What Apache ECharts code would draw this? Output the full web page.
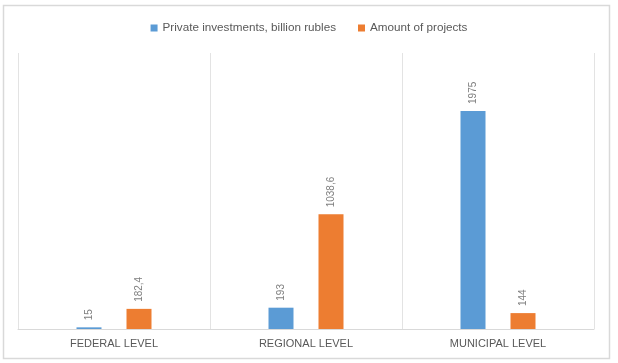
<!DOCTYPE html>
<html>
<head>
<meta charset="utf-8">
<script src="https://cdn.jsdelivr.net/npm/echarts@6/dist/echarts.min.js"></script>
<style>
html,body{margin:0;padding:0;background:#fff;}
#chart{width:618px;height:363px;}
</style>
</head>
<body>
<div id="chart"></div>
<script>
var categories = ['FEDERAL LEVEL', 'REGIONAL LEVEL', 'MUNICIPAL LEVEL'];
var seriesNames = ['Private investments, billion rubles', 'Amount of projects'];
var investments = [15, 193, 1975];
var projects = [182.4, 1038.6, 144];

var chart = echarts.init(document.getElementById('chart'));
function fmt(p){ return String(p.value).replace('.', ','); }
var labelStyle = {
  show: true,
  position: 'top',
  rotate: 90,
  align: 'left',
  verticalAlign: 'middle',
  distance: 7,
  color: '#7f7f7f',
  fontSize: 10,
  fontFamily: 'Liberation Sans',
  formatter: fmt
};
chart.setOption({
  animation: false,
  backgroundColor: '#fff',
  graphic: [{
    type: 'rect',
    shape: {x: 3.5, y: 5.5, width: 606, height: 353},
    style: {fill: 'none', stroke: '#d9d9d9', lineWidth: 1.5},
    silent: true
  }],
  legend: {
    top: 17,
    left: 'center',
    itemWidth: 7,
    itemHeight: 7,
    itemGap: 22,
    icon: 'rect',
    textStyle: {color: '#595959', fontSize: 11.7, fontFamily: 'Liberation Sans'},
    data: seriesNames
  },
  grid: {left: 18, right: 24, top: 53, bottom: 34},
  xAxis: {
    type: 'category',
    data: categories,
    axisLine: {lineStyle: {color: '#d9d9d9'}},
    axisTick: {show: false},
    axisLabel: {color: '#595959', fontSize: 11, fontFamily: 'Liberation Sans', margin: 9},
    splitLine: {show: true, lineStyle: {color: '#e3e3e3'}}
  },
  yAxis: {
    type: 'value',
    min: 0,
    max: 2500,
    show: false,
    splitLine: {show: false}
  },
  series: [{
    name: seriesNames[0],
    type: 'bar',
    data: investments,
    itemStyle: {color: '#5B9BD5'},
    barWidth: 25,
    barGap: '100%',
    label: labelStyle
  }, {
    name: seriesNames[1],
    type: 'bar',
    data: projects,
    itemStyle: {color: '#ED7D31'},
    barWidth: 25,
    label: labelStyle
  }]
});
</script>
</body>
</html>
